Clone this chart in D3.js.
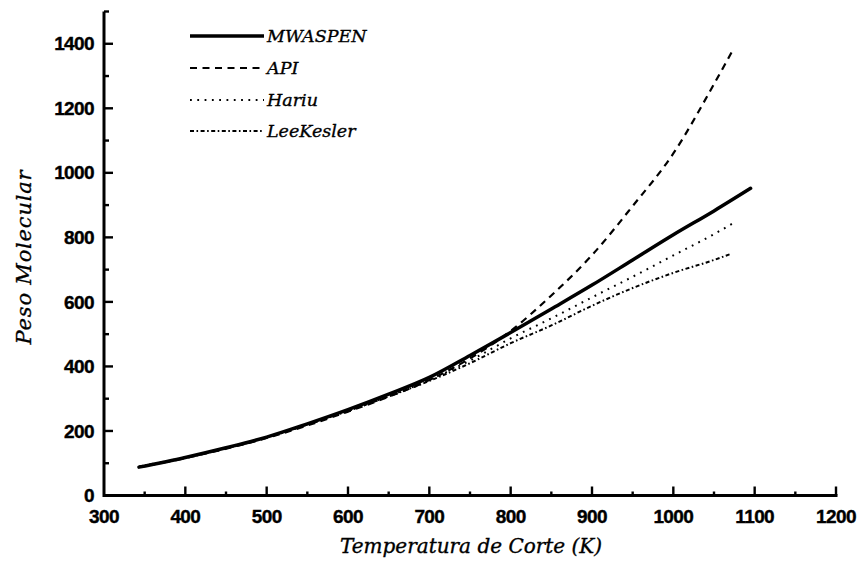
<!DOCTYPE html>
<html>
<head>
<meta charset="utf-8">
<script src="https://cdn.jsdelivr.net/npm/d3@7"></script>
<style>
  html, body { margin: 0; padding: 0; background: #fff; }
  svg { display: block; }
  .tick-label { font-family: "Liberation Sans", Arial, sans-serif; font-weight: bold; font-size: 19px; letter-spacing: -0.6px; fill: #000; stroke: #000; stroke-width: 0.4px; }
  .title { font-family: "DejaVu Serif", "Liberation Serif", serif; font-style: italic; fill: #000; stroke: #000; stroke-width: 0.35px; }
</style>
</head>
<body>
<svg id="chart" width="862" height="561"></svg>
<script>
// Cut temperature (K) and molecular weight for each correlation
const tempMW = [343, 400, 450, 500, 550, 600, 650, 700, 750, 800, 850, 900, 950, 1000, 1050, 1095];
const mwaspen = [88, 118, 148, 181, 222, 266, 314, 366, 434, 505, 578, 652, 730, 808, 882, 952];

const tempAPI = [343, 400, 450, 500, 550, 600, 650, 700, 750, 800, 850, 900, 950, 1000, 1050, 1072];
const api = [88, 116, 145, 178, 217, 260, 306, 358, 425, 510, 620, 745, 897, 1060, 1275, 1375];

const tempHariu = [343, 400, 450, 500, 550, 600, 650, 700, 750, 800, 850, 900, 950, 1000, 1050, 1073];
const hariu = [88, 116, 146, 180, 219, 262, 308, 358, 418, 487, 549, 614, 678, 744, 810, 843];

const tempLK = [343, 400, 450, 500, 550, 600, 650, 700, 750, 800, 850, 900, 950, 1000, 1050, 1072];
const leeKesler = [90, 118, 147, 181, 220, 262, 307, 355, 410, 472, 527, 588, 643, 690, 730, 750];

const xMajor = [300, 400, 500, 600, 700, 800, 900, 1000, 1100, 1200];
const xMinor = [350, 450, 550, 650, 750, 850, 950, 1050, 1150];
const yMajor = [0, 200, 400, 600, 800, 1000, 1200, 1400];
const yMinor = [100, 300, 500, 700, 900, 1100, 1300, 1500];

const seriesNames = ["MWASPEN", "API", "Hariu", "LeeKesler"];

const svg = d3.select("#chart");

const x = d3.scaleLinear().domain([300, 1200]).range([104, 836]);
const y = d3.scaleLinear().domain([0, 1500]).range([495.5, 11.5]);

const styles = [
  { width: 3.5, dash: null },
  { width: 2.2, dash: "7,5.5" },
  { width: 2, dash: "1.8,5.5" },
  { width: 2, dash: "4,2.5,1.6,2.5" }
];

const series = [
  { t: tempMW, v: mwaspen },
  { t: tempAPI, v: api },
  { t: tempHariu, v: hariu },
  { t: tempLK, v: leeKesler }
];

const line = d3.line()
  .x(d => x(d[0]))
  .y(d => y(d[1]))
  .curve(d3.curveMonotoneX);

// Curves (thin ones first so the solid line sits on top)
[3, 2, 1, 0].forEach(i => {
  const s = series[i];
  const pts = s.t.map((t, k) => [t, s.v[k]]);
  svg.append("path")
    .attr("d", line(pts))
    .attr("fill", "none")
    .attr("stroke", "#000")
    .attr("stroke-width", styles[i].width)
    .attr("stroke-linecap", i === 0 ? "round" : "butt")
    .attr("stroke-dasharray", styles[i].dash);
});

const fmt = d3.format("d");
const x0 = x(300), y0 = y(0);

// Axis lines
const axes = svg.append("g").attr("stroke", "#000").attr("stroke-width", 3).attr("fill", "none");
axes.append("line").attr("x1", x0).attr("x2", x(1200) + 1.5).attr("y1", y0).attr("y2", y0);
axes.append("line").attr("x1", x0).attr("x2", x0).attr("y1", y0 + 1.5).attr("y2", y(1500));

// Inward ticks on both axes
const ticks = svg.append("g").attr("stroke", "#000").attr("stroke-width", 2.4);
ticks.selectAll(".xmaj").data(xMajor.slice(1)).join("line")
  .attr("x1", d => x(d)).attr("x2", d => x(d))
  .attr("y1", y0).attr("y2", y0 - 9);
ticks.selectAll(".xmin").data(xMinor).join("line")
  .attr("x1", d => x(d)).attr("x2", d => x(d))
  .attr("y1", y0).attr("y2", y0 - 4);
ticks.selectAll(".ymaj").data(yMajor.slice(1)).join("line")
  .attr("x1", x0).attr("x2", x0 + 9)
  .attr("y1", d => y(d)).attr("y2", d => y(d));
ticks.selectAll(".ymin").data(yMinor).join("line")
  .attr("x1", x0).attr("x2", x0 + 5)
  .attr("y1", d => y(d)).attr("y2", d => y(d));

// Tick labels
svg.append("g").selectAll("text").data(xMajor).join("text")
  .attr("class", "tick-label")
  .attr("x", d => x(d))
  .attr("y", y0 + 14)
  .attr("dy", "0.71em")
  .attr("text-anchor", "middle")
  .text(fmt);
svg.append("g").selectAll("text").data(yMajor).join("text")
  .attr("class", "tick-label")
  .attr("x", x0 - 10)
  .attr("y", d => y(d))
  .attr("dy", "0.35em")
  .attr("text-anchor", "end")
  .text(fmt);

// Axis titles
svg.append("text")
  .attr("class", "title")
  .attr("x", 471)
  .attr("y", 553)
  .attr("text-anchor", "middle")
  .attr("font-size", 20)
  .text("Temperatura de Corte (K)");

svg.append("text")
  .attr("class", "title")
  .attr("transform", "translate(31,257) rotate(-90)")
  .attr("text-anchor", "middle")
  .attr("font-size", 21)
  .attr("letter-spacing", 0.8)
  .text("Peso Molecular");

// Legend
const legendY = [36, 68, 100, 131];
const legend = svg.append("g");
seriesNames.forEach((name, i) => {
  legend.append("line")
    .attr("x1", 190).attr("x2", 264)
    .attr("y1", legendY[i]).attr("y2", legendY[i])
    .attr("stroke", "#000")
    .attr("stroke-width", styles[i].width)
    .attr("stroke-dasharray", styles[i].dash);
  legend.append("text")
    .attr("class", "title")
    .attr("x", 267)
    .attr("y", legendY[i])
    .attr("dy", "0.36em")
    .attr("font-size", 17.5)
    .text(name);
});
</script>
</body>
</html>
